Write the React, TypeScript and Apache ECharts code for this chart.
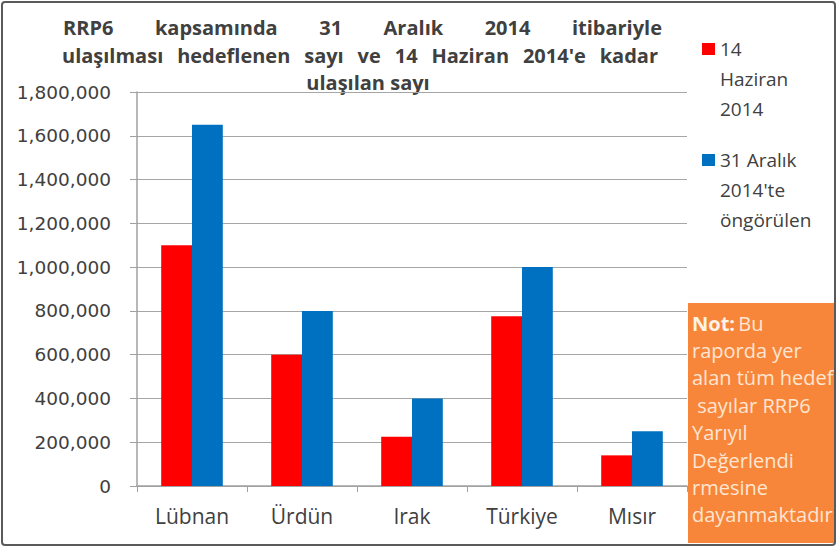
import React, { useEffect, useRef } from "react";
import * as echarts from "echarts";

const categories = ["Lübnan", "Ürdün", "Irak", "Türkiye", "Mısır"];
const seriesNames = ["14 Haziran 2014", "31 Aralık 2014'te öngörülen"];
const june2014 = [1100000, 600000, 225000, 775000, 140000];
const dec2014 = [1650000, 800000, 400000, 1000000, 250000];
const titleLine1 = ["RRP6", "kapsamında", "31", "Aralık", "2014", "itibariyle"];
const titleLine2 = ["ulaşılması", "hedeflenen", "sayı", "ve", "14", "Haziran", "2014'e", "kadar"];
const titleLine3 = "ulaşılan sayı";
const legendLines = [["14", "Haziran", "2014"], ["31 Aralık", "2014'te", "öngörülen"]];
const noteLines = ["Bu", "raporda yer", "alan tüm hedef", " sayılar RRP6", "Yarıyıl", "Değerlendi", "rmesine", "dayanmaktadır"];

const FONT = "'Open Sans', 'Noto Sans', sans-serif";
const TEXT = "#404040";
const RED = "#FF0000";
const BLUE = "#0070C0";

function justify(words: string[], font: string, x0: number, x1: number): number[] {
  const ctx = document.createElement("canvas").getContext("2d");
  let widths = words.map((w) => w.length * 10);
  if (ctx) {
    ctx.font = font;
    widths = words.map((w) => ctx.measureText(w).width);
  }
  const total = widths.reduce((a, b) => a + b, 0);
  const gap = (x1 - x0 - total) / (words.length - 1);
  const xs: number[] = [];
  let x = x0;
  widths.forEach((w) => {
    xs.push(x);
    x += w + gap;
  });
  return xs;
}

export default function App() {
  const ref = useRef<HTMLDivElement>(null);
  useEffect(() => {
    if (!ref.current) return;
    const chart = echarts.init(ref.current, null, { renderer: "svg" });
    const titleFont = `bold 20px ${FONT}`;
    const line1X = justify(titleLine1, titleFont, 63, 662);
    const line2X = justify(titleLine2, titleFont, 62, 658);
    const graphics: any[] = [];
    titleLine1.forEach((w, i) => {
      graphics.push({
        type: "text", x: line1X[i], y: 27,
        style: { text: w, font: titleFont, fill: TEXT, align: "left", verticalAlign: "middle" },
      });
    });
    titleLine2.forEach((w, i) => {
      graphics.push({
        type: "text", x: line2X[i], y: 55,
        style: { text: w, font: titleFont, fill: TEXT, align: "left", verticalAlign: "middle" },
      });
    });
    graphics.push({
      type: "text", x: 368, y: 82,
      style: { text: titleLine3, font: titleFont, fill: TEXT, align: "center", verticalAlign: "middle" },
    });
    // legend
    const legendColors = [RED, BLUE];
    const legendTop = [49, 160];
    legendLines.forEach((lines, si) => {
      graphics.push({
        type: "rect", shape: { x: 702, y: legendTop[si] - 6, width: 13, height: 12 },
        style: { fill: legendColors[si] },
      });
      lines.forEach((t, li) => {
        graphics.push({
          type: "text", x: 720, y: legendTop[si] + li * 30,
          style: { text: t, font: `19px ${FONT}`, fill: TEXT, align: "left", verticalAlign: "middle" },
        });
      });
    });
    // note box
    graphics.push({
      type: "rect", shape: { x: 688, y: 303, width: 147, height: 240 },
      style: { fill: "#F7853A" },
    });
    graphics.push({
      type: "text", x: 692, y: 323,
      style: {
        text: "{b|Not:} {n|" + noteLines[0] + "}",
        rich: {
          b: { font: `bold 20px ${FONT}`, fill: "#FFF3E8" },
          n: { font: `20px ${FONT}`, fill: "#FFE6D2" },
        },
        verticalAlign: "middle",
      },
    });
    noteLines.slice(1).forEach((t, i) => {
      graphics.push({
        type: "text", x: 692, y: 323 + (i + 1) * 27.4,
        style: { text: t, font: `20px ${FONT}`, fill: "#FFE6D2", verticalAlign: "middle" },
      });
    });
    // outer border
    graphics.push({
      type: "rect", shape: { x: 2, y: 2, width: 833, height: 543, r: 3 },
      style: { fill: "none", stroke: "#5a5a5a", lineWidth: 2 },
      z: 100,
    });

    chart.setOption({
      animation: false,
      backgroundColor: "#ffffff",
      grid: { left: 137, right: 150, top: 92, bottom: 62 },
      xAxis: {
        type: "category",
        data: categories,
        axisLine: { lineStyle: { color: "#A0A0A0", width: 1.5 } },
        axisTick: { show: true, length: 6, lineStyle: { color: "#A0A0A0" } },
        axisLabel: { color: TEXT, fontSize: 21, fontFamily: FONT, margin: 19 },
      },
      yAxis: {
        type: "value",
        min: 0,
        max: 1800000,
        interval: 200000,
        axisLine: { show: true, lineStyle: { color: "#A0A0A0", width: 1.5 } },
        axisTick: { show: true, length: 7, lineStyle: { color: "#A0A0A0" } },
        splitLine: { lineStyle: { color: "#A6A6A6", width: 1 } },
        axisLabel: {
          color: TEXT, fontSize: 18.5, fontFamily: "'DejaVu Sans', sans-serif", margin: 26,
          formatter: (v: number) => v.toLocaleString("en-US"),
        },
      },
      series: [
        { name: seriesNames[0], type: "bar", data: june2014, itemStyle: { color: RED }, barGap: "0%", barCategoryGap: "44%" },
        { name: seriesNames[1], type: "bar", data: dec2014, itemStyle: { color: BLUE }, barGap: "0%", barCategoryGap: "44%" },
      ],
      graphic: graphics,
    });
    return () => chart.dispose();
  }, []);
  return <div ref={ref} style={{ position: "fixed", left: 0, top: 0, width: 837, height: 548 }} />;
}
